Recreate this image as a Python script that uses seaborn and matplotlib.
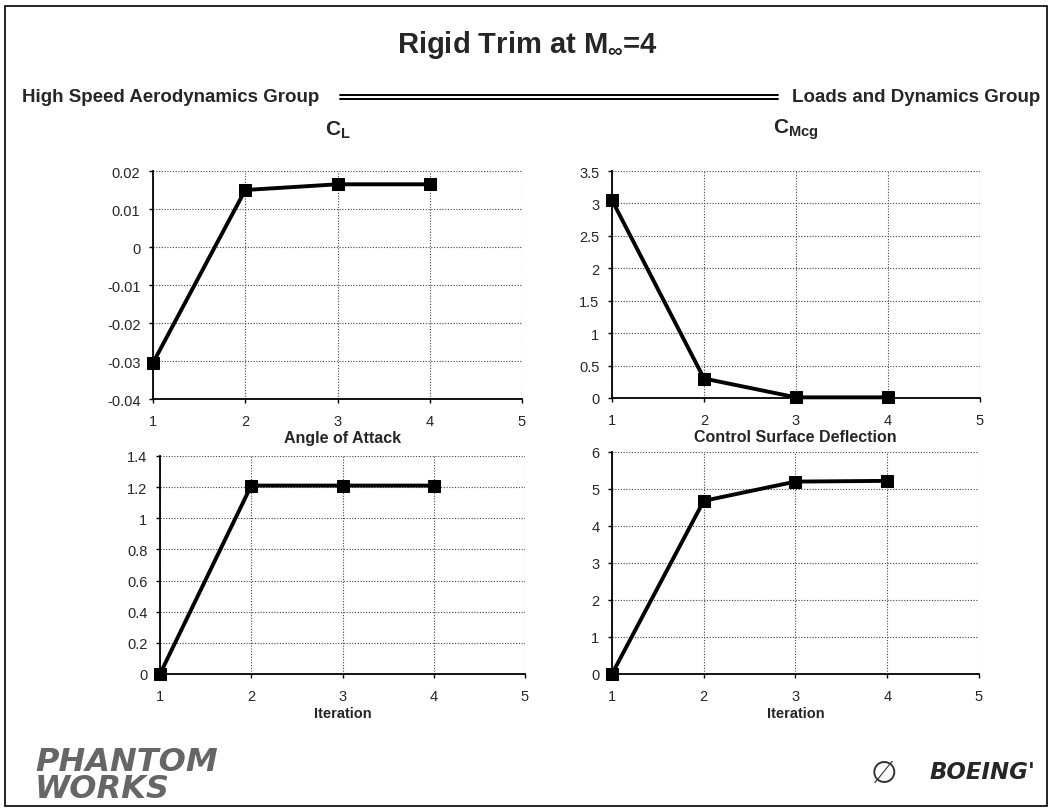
import matplotlib
matplotlib.use("Agg")
import matplotlib.pyplot as plt
import matplotlib.ticker as mtick
from matplotlib.patches import Rectangle
from matplotlib.lines import Line2D
import seaborn as sns

# data
iterations = [1, 2, 3, 4]
cl = [-0.0305, 0.015, 0.0165, 0.0165]
cmcg = [3.05, 0.30, 0.01, 0.01]
alpha = [0.0, 1.21, 1.21, 1.21]
deflection = [0.0, 4.68, 5.20, 5.22]

sns.set_style("white")
plt.rcParams["font.family"] = ["Liberation Sans", "DejaVu Sans"]
plt.rcParams["mathtext.default"] = "regular"

W, H = 1055, 812
fig = plt.figure(figsize=(W / 100, H / 100), dpi=100)


def px_axes(x0, y0, x1, y1):
    return fig.add_axes([x0 / W, 1 - y1 / H, (x1 - x0) / W, (y1 - y0) / H])


# values, title, plot box in px, ylim, y step, title y, title size, xlabel
panels = [
    (cl, "C$_L$", (153, 172, 522, 400), (-0.04, 0.02), 0.01, 130, 15, False),
    (cmcg, "C$_{Mcg}$", (612, 172, 980, 399), (0, 3.5), 0.5, 130, 15, False),
    (alpha, "Angle of Attack", (160, 457, 525, 675), (0, 1.4), 0.2, 439, 11.5, True),
    (deflection, "Control Surface Deflection", (612, 453, 979, 675), (0, 6), 1, 438, 11.5, True),
]

for values, title, box, ylim, step, ty, tsize, show_xlabel in panels:
    ax = px_axes(*box)
    sns.lineplot(x=iterations, y=values, ax=ax, color="black", linewidth=2.8,
                 marker="s", markersize=8, markeredgecolor="black", zorder=5,
                 clip_on=False)
    ax.set_xlim(1, 5)
    ax.set_ylim(*ylim)
    ax.xaxis.set_major_locator(mtick.MultipleLocator(1))
    ax.yaxis.set_major_locator(mtick.MultipleLocator(step))
    ax.yaxis.set_major_formatter(mtick.FuncFormatter(lambda v, p: f"{round(v, 4):g}"))
    ax.grid(True, color="#444444", linestyle=(0, (1, 1.5)), linewidth=0.8)
    for side in ["top", "right"]:
        ax.spines[side].set_visible(False)
    for side in ["left", "bottom"]:
        ax.spines[side].set_color("black")
        ax.spines[side].set_linewidth(1.3)
    ax.tick_params(axis="both", which="major", length=3, width=1, color="black",
                   labelsize=10.5, pad=6, direction="out", bottom=True, left=True)
    ax.tick_params(axis="x", pad=8)
    fig.text((box[0] + box[2]) / 2 / W, 1 - ty / H, title, ha="center", va="center",
             fontsize=tsize, fontweight="bold")
    if show_xlabel:
        ax.set_xlabel("Iteration", fontsize=10.5, fontweight="bold", labelpad=2)

# slide decorations
fig.text(0.5, 1 - 45 / H, "Rigid Trim at M$_{\\infty}$=4", ha="center", va="center",
         fontsize=21, fontweight="bold")
fig.text(22 / W, 1 - 98 / H, "High Speed Aerodynamics Group", ha="left", va="center",
         fontsize=13.5, fontweight="bold")
fig.text(1040 / W, 1 - 98 / H, "Loads and Dynamics Group", ha="right", va="center",
         fontsize=13.5, fontweight="bold")
for yy in (96, 99.5):
    fig.add_artist(Line2D([340 / W, 778 / W], [1 - yy / H, 1 - yy / H],
                          color="black", linewidth=1.4))
fig.add_artist(Rectangle((5 / W, 5 / H), 1042 / W, 1 - 12 / H, fill=False,
                         edgecolor="black", linewidth=1.2, transform=fig.transFigure))
fig.text(35 / W, 1 - 776 / H, "PHANTOM\nWORKS", ha="left", va="center", fontsize=23,
         fontweight="bold", style="italic", color="#666666", linespacing=0.85,
         family=["DejaVu Sans"])
fig.text(1035 / W, 1 - 773 / H, "BOEING'", ha="right", va="center", fontsize=16.5,
         fontweight="bold", style="italic", family=["DejaVu Sans"])
fig.text(884 / W, 1 - 775 / H, "\u2205", ha="center", va="center", fontsize=22,
         family=["DejaVu Sans"], color="#333333")

fig.savefig("out.png", dpi=100)
